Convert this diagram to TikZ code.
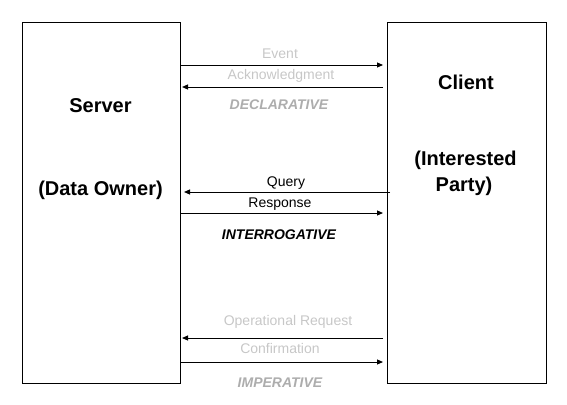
\documentclass[tikz,border=0pt]{standalone}
\usepackage{fontspec}
\setmainfont{Liberation Sans}
\usetikzlibrary{arrows.meta}

\begin{document}
\begin{tikzpicture}[x=1pt,y=-1pt,
  party/.style={draw,line width=1pt,anchor=north west,inner sep=0pt,minimum width=#1,minimum height=361pt},
  who/.style={anchor=base,font=\fontsize{20}{24}\selectfont\bfseries},
  msg/.style={anchor=base,text=black!22,font=\fontsize{14}{16}\selectfont},
  kind/.style={anchor=base,text=black!32,font=\fontsize{14}{16}\selectfont\bfseries\itshape},
  flow/.style={line width=1pt,-{Triangle[length=6pt,width=5pt]}}]
\useasboundingbox (0,0) rectangle (567,404);
% the two parties
\node[party=158pt] (server) at (22,22) {};
\node[party=159pt] (client) at (387,22) {};
\node[who] (srvname) at (100.5,112) {Server};
\node[who] (srvrole) at (100.5,195) {(Data Owner)};
\node[who] (cliname) at (466,89) {Client};
\node[who] (clirole) at (465.5,165) {(Interested};
\node[who] (cliparty) at (464,191) {Party)};
% message labels
\node[msg] (event) at (280,59) {Event};
\node[msg] (ack) at (281,79) {Acknowledgment};
\node[kind] (decl) at (279,109) {DECLARATIVE};
\node[msg,text=black] (query) at (286,186) {Query};
\node[msg,text=black] (resp) at (280,207) {Response};
\node[kind,text=black] (inter) at (279,239) {INTERROGATIVE};
\node[msg] (opreq) at (288,325) {Operational Request};
\node[msg] (conf) at (280,353) {Confirmation};
\node[kind] (imper) at (280,387) {IMPERATIVE};
% rows of the arrows
\coordinate (evtrow) at (0,65);
\coordinate (ackrow) at (0,87);
\coordinate (qryrow) at (0,192);
\coordinate (rsprow) at (0,213);
\coordinate (oprrow) at (0,338);
\coordinate (cnfrow) at (0,362);
\draw[flow,shorten >=4pt] (server.east |- evtrow) -- (client.west |- evtrow);
\draw[flow,shorten <=4pt,shorten >=1pt] (client.west |- ackrow) -- (server.east |- ackrow);
\draw[flow,shorten <=-3pt,shorten >=3pt] (client.west |- qryrow) -- (server.east |- qryrow);
\draw[flow,shorten >=4pt] (server.east |- rsprow) -- (client.west |- rsprow);
\draw[flow,shorten <=4pt,shorten >=1pt] (client.west |- oprrow) -- (server.east |- oprrow);
\draw[flow,shorten >=4pt] (server.east |- cnfrow) -- (client.west |- cnfrow);
\end{tikzpicture}
\end{document}
